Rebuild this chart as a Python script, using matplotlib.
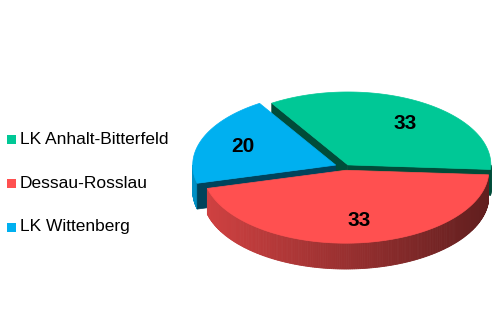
import numpy as np
import matplotlib
matplotlib.use('Agg')
import matplotlib.pyplot as plt
from matplotlib.patches import Polygon, Rectangle
from matplotlib.colors import to_rgb

# data (clockwise order, as in the legend)
labels = ['LK Anhalt-Bitterfeld', 'Dessau-Rosslau', 'LK Wittenberg']
values = [33, 33, 20]
colors = ['#00C896', '#FF5050', '#00B0F0']
explode = [0.035, 0.045, 0.07]

# view params
start_angle = 123.0
sin_e = 0.51
cos_e = np.sqrt(1 - sin_e ** 2)
R = 143.0           # px per radius
cx, cy = 345.0, 167.0
h = 0.21            # thickness in radii
warp = 19.0         # widen front of the pie a bit (like excel's perspective)


def warp_angle(t):
    # t in radians, front of pie is at 270 deg
    phi = (np.degrees(t) - 270.0 + 180.0) % 360.0 - 180.0
    phi = phi + warp * np.sin(np.radians(phi)) * (1 + np.cos(np.radians(phi))) / 2
    return np.radians(phi + 270.0)


def proj(x, y, z):
    x = np.asarray(x, float); y = np.asarray(y, float); z = np.asarray(z, float)
    return cx + x * R, cy - (y * sin_e + z * cos_e) * R


def shade(c, f):
    r, g, b = to_rgb(c)
    return (r * f, g * f, b * f)


fig = plt.figure(figsize=(5, 3.33), dpi=100)
ax = fig.add_axes([0, 0, 1, 1])
ax.set_xlim(0, 500)
ax.set_ylim(333, 0)
ax.axis('off')

total = float(sum(values))
spans = [v / total * 360.0 for v in values]
wedges = []
a = start_angle
for i, sp in enumerate(spans):
    a1, a2 = np.radians(a - sp), np.radians(a)   # clockwise
    mid = warp_angle(0.5 * (a1 + a2))
    o = np.array([np.cos(mid), np.sin(mid)]) * explode[i]
    wedges.append((i, a1, a2, mid, o))
    a -= sp

# back slices first
wedges.sort(key=lambda w: np.sin(w[3]), reverse=True)

label_pos = {}
for i, t1, t2, mid, o in wedges:
    col = colors[i]
    th = warp_angle(np.linspace(t1, t2, 240))
    th = np.unwrap(th)
    ex = o[0] + np.cos(th)
    ey = o[1] + np.sin(th)

    # outer side, thin strips with shading
    for k in range(len(th) - 1):
        tm = 0.5 * (th[k] + th[k + 1])
        if np.sin(tm) >= 0:
            continue
        xs = [ex[k], ex[k + 1], ex[k + 1], ex[k]]
        ys = [ey[k], ey[k + 1], ey[k + 1], ey[k]]
        zs = [0, 0, -h, -h]
        px, py = proj(xs, ys, zs)
        fc = shade(col, 0.6 - 0.22 * np.cos(tm))
        ax.add_patch(Polygon(np.c_[px, py], closed=True, facecolor=fc,
                             edgecolor=fc, linewidth=0.6))

    # radial faces
    for t in (th[0], th[-1]):
        nrm = np.array([-np.sin(t), np.cos(t)])
        if nrm.dot([np.cos(mid), np.sin(mid)]) > 0:
            nrm = -nrm
        if nrm[1] >= 0:
            continue
        xs = [o[0], o[0] + np.cos(t), o[0] + np.cos(t), o[0]]
        ys = [o[1], o[1] + np.sin(t), o[1] + np.sin(t), o[1]]
        zs = [0, 0, -h, -h]
        px, py = proj(xs, ys, zs)
        fc = shade(col, 0.38)
        ax.add_patch(Polygon(np.c_[px, py], closed=True, facecolor=fc,
                             edgecolor=fc, linewidth=0.5))

    # top face
    tx = np.r_[o[0], ex]
    ty = np.r_[o[1], ey]
    px, py = proj(tx, ty, np.zeros_like(tx))
    ax.add_patch(Polygon(np.c_[px, py], closed=True, facecolor=col,
                         edgecolor=col, linewidth=0.5))

    lr = 0.7
    label_pos[i] = proj(o[0] + lr * np.cos(mid), o[1] + lr * np.sin(mid), 0.0)

for i, v in enumerate(values):
    lx, ly = label_pos[i]
    ax.text(float(lx), float(ly), str(v), ha='center', va='center',
            fontsize=15, fontweight='bold', family='Liberation Sans',
            color='black')

# legend
leg_y = [139, 183, 227]
for i, lab in enumerate(labels):
    ax.add_patch(Rectangle((7, leg_y[i] - 4.5), 9, 9, facecolor=colors[i],
                           edgecolor='none'))
    ax.text(20, leg_y[i], lab, ha='left', va='center', fontsize=12.5,
            family='Liberation Sans', color='black')

fig.savefig('out.png', dpi=100)
